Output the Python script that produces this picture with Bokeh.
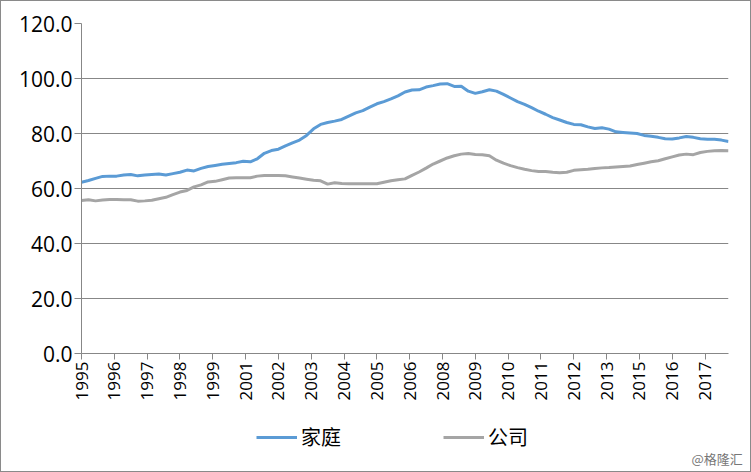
import math
from bokeh.plotting import figure
from bokeh.layouts import column
from bokeh.models import (ColumnDataSource, FixedTicker, NumeralTickFormatter,
                          Legend, LegendItem, Label, Range1d)
from bokeh.embed import file_html
from bokeh.resources import INLINE

# ---- data (quarterly, 1995 Q1 .. 2017 Q4) ----
household = [
    62.3, 62.9, 63.7, 64.4, 64.5, 64.5, 64.9, 65.1, 64.6, 64.9,
    65.1, 65.3, 64.9, 65.4, 65.9, 66.7, 66.4, 67.3, 68.0, 68.4,
    68.8, 69.1, 69.4, 69.9, 69.7, 70.8, 72.8, 73.8, 74.3, 75.5,
    76.6, 77.6, 79.3, 81.7, 83.3, 84.0, 84.5, 85.1, 86.3, 87.5,
    88.3, 89.6, 90.8, 91.6, 92.6, 93.7, 95.1, 95.8, 95.9, 96.9,
    97.4, 98.0, 98.1, 97.1, 97.2, 95.4, 94.6, 95.2, 95.9, 95.4,
    94.2, 92.9, 91.6, 90.6, 89.4, 88.1, 87.0, 85.8, 84.9, 84.0,
    83.3, 83.2, 82.4, 81.8, 82.1, 81.6, 80.6, 80.4, 80.2, 80.0,
    79.3, 79.0, 78.6, 78.1, 78.0, 78.4, 78.9, 78.6, 78.1, 77.9,
    77.9, 77.6, 77.1,
]
company = [
    55.6, 55.9, 55.5, 55.8, 56.0, 56.0, 55.9, 55.9, 55.4, 55.5,
    55.7, 56.3, 56.8, 57.8, 58.7, 59.3, 60.6, 61.3, 62.4, 62.6,
    63.2, 63.8, 63.9, 63.9, 63.9, 64.5, 64.7, 64.7, 64.7, 64.6,
    64.2, 63.8, 63.4, 63.0, 62.8, 61.6, 62.1, 61.8, 61.7, 61.7,
    61.7, 61.7, 61.7, 62.3, 62.8, 63.2, 63.5, 64.8, 66.0, 67.4,
    68.9, 70.0, 71.1, 71.9, 72.5, 72.7, 72.4, 72.3, 71.9, 70.3,
    69.2, 68.3, 67.6, 67.0, 66.5, 66.2, 66.2, 65.9, 65.7, 65.9,
    66.6, 66.8, 67.0, 67.3, 67.5, 67.6, 67.8, 68.0, 68.2, 68.7,
    69.2, 69.7, 70.1, 70.8, 71.5, 72.2, 72.5, 72.3, 73.1, 73.5,
    73.7, 73.8, 73.7,
]
tick_labels = ["1995", "1996", "1997", "1998", "1999", "2001", "2002", "2003",
               "2004", "2005", "2006", "2008", "2009", "2010", "2011", "2012",
               "2013", "2015", "2016", "2017"]
series_names = ["家庭", "公司"]
watermark = "@格隆汇"

# month index of each quarterly observation; axis labels every 14 months
months = [3 * i for i in range(len(household))]
tick_pos = [14 * k for k in range(len(tick_labels))]

src = ColumnDataSource(dict(x=months, h=household, c=company))

FONT = "Open Sans"
CJK = "Noto Sans CJK SC"
GRID = "#878787"
BLUE = "#5B9BD5"
GRAY = "#A5A5A5"

W = 749
H1 = 406
H2 = 64

p = figure(width=W, height=H1, output_backend="svg", toolbar_location=None,
           x_range=Range1d(0, months[-1]), y_range=Range1d(0, 120),
           min_border_left=80, min_border_right=22, min_border_top=22,
           min_border_bottom=H1 - 352)
p.outline_line_color = None
p.background_fill_color = "white"
p.border_fill_color = "white"

p.line("x", "h", source=src, line_color=BLUE, line_width=3)
p.line("x", "c", source=src, line_color=GRAY, line_width=3)

# y axis
p.yaxis.ticker = FixedTicker(ticks=[0, 20, 40, 60, 80, 100, 120])
p.yaxis.formatter = NumeralTickFormatter(format="0.0")
p.yaxis.major_label_text_font = FONT
p.yaxis.major_label_text_font_size = "21px"
p.yaxis.major_label_text_color = "#000000"
p.yaxis.axis_line_color = GRID
p.yaxis.major_tick_line_color = GRID
p.yaxis.major_tick_out = 7
p.yaxis.major_tick_in = 0
p.yaxis.minor_tick_line_color = None
p.yaxis.major_label_standoff = 2

# x axis
p.xaxis.ticker = FixedTicker(ticks=tick_pos)
p.xaxis.major_label_overrides = {t: l for t, l in zip(tick_pos, tick_labels)}
p.xaxis.major_label_orientation = math.pi / 2
p.xaxis.major_label_text_font = FONT
p.xaxis.major_label_text_font_size = "17px"
p.xaxis.major_label_text_color = "#000000"
p.xaxis.axis_line_color = GRID
p.xaxis.major_tick_line_color = GRID
p.xaxis.major_tick_out = 6
p.xaxis.major_tick_in = 0
p.xaxis.minor_tick_line_color = None
p.xaxis.major_label_standoff = 2

p.xgrid.grid_line_color = None
p.ygrid.grid_line_color = GRID
p.ygrid.grid_line_width = 1

# ---- legend strip below the chart ----
q = figure(width=W, height=H2, output_backend="svg", toolbar_location=None,
           x_axis_type=None, y_axis_type=None,
           x_range=Range1d(0, 1), y_range=Range1d(0, 1),
           min_border=0, min_border_left=0, min_border_right=0,
           min_border_top=0, min_border_bottom=0)
q.outline_line_color = None
q.background_fill_color = "white"
q.border_fill_color = "white"
q.xgrid.visible = False
q.ygrid.visible = False
nan = float("nan")
lr1 = q.line(x=[nan], y=[nan], line_color=BLUE, line_width=3)
lr2 = q.line(x=[nan], y=[nan], line_color=GRAY, line_width=3)

legend = Legend(items=[LegendItem(label=series_names[0], renderers=[lr1]),
                       LegendItem(label=series_names[1], renderers=[lr2])],
                orientation="horizontal", location=(255, 20),
                glyph_width=41, glyph_height=20, label_standoff=4, spacing=102,
                padding=0, margin=0, border_line_color=None,
                background_fill_alpha=0,
                label_text_font=CJK, label_text_font_size="20px",
                label_text_color="#000000", label_height=20)
q.add_layout(legend, "center")

wm = Label(x=690, y=4, x_units="screen", y_units="screen", text=watermark,
           text_font=CJK, text_font_size="13px", text_color="#777777")
q.add_layout(wm)

inner = column(q, spacing=0)
layout = column(p, inner, spacing=0)
layout.styles = {"border": "1px solid #8a8a8a", "background-color": "white"}

open("out.html", "w").write(file_html(layout, INLINE))
